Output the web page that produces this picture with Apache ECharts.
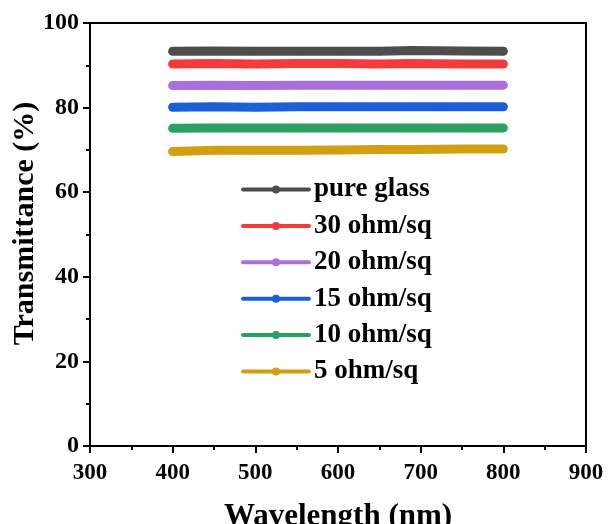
<!DOCTYPE html>
<html>
<head>
<meta charset="utf-8">
<script src="https://cdn.jsdelivr.net/npm/echarts@6/dist/echarts.min.js"></script>
<style>
  html, body { margin: 0; padding: 0; background: #fff; }
  #chart { width: 608px; height: 524px; }
</style>
</head>
<body>
<div id="chart"></div>
<script>
// wavelength (nm) sample points
const wavelength = [400, 450, 500, 550, 600, 650, 690, 750, 800]
// transmittance (%)
const pureGlass = [93.3, 93.4, 93.3, 93.3, 93.3, 93.3, 93.5, 93.4, 93.3]
const ohm30 = [90.3, 90.4, 90.3, 90.4, 90.4, 90.3, 90.4, 90.3, 90.3]
const ohm20 = [85.2, 85.3, 85.2, 85.3, 85.3, 85.3, 85.3, 85.3, 85.3]
const ohm15 = [80.1, 80.2, 80.1, 80.2, 80.2, 80.2, 80.2, 80.2, 80.2]
const ohm10 = [75.1, 75.2, 75.2, 75.2, 75.2, 75.2, 75.2, 75.2, 75.2]
const ohm5 = [69.6, 69.9, 69.9, 69.9, 70.0, 70.1, 70.1, 70.2, 70.2]

const names = ['pure glass', '30 ohm/sq', '20 ohm/sq', '15 ohm/sq', '10 ohm/sq', '5 ohm/sq']
const colors = ['#4d4d4d', '#f23c3c', '#a970dc', '#1c60d8', '#2aa063', '#d29f12']
const values = [pureGlass, ohm30, ohm20, ohm15, ohm10, ohm5]

const font = 'Liberation Serif'

const chart = echarts.init(document.getElementById('chart'))

const series = values.map((v, i) => {
  return {
    name: names[i],
    type: 'line',
    data: v.map((y, j) => [wavelength[j], y]),
    symbol: 'circle',
    symbolSize: 8,
    itemStyle: { color: colors[i] },
    lineStyle: { color: colors[i], width: 9, cap: 'round' },
    animation: false
  }
})

const axisCommon = {
  nameLocation: 'middle',
  nameMoveOverlap: false,
  axisLine: { show: true, lineStyle: { color: '#000', width: 2 } },
  axisTick: { show: true, inside: false, length: 7, lineStyle: { color: '#000', width: 2 } },
  minorTick: { show: true, splitNumber: 2, length: 4, lineStyle: { color: '#000', width: 2 } },
  splitLine: { show: false }
}

chart.setOption({
  animation: false,
  grid: {
    left: 90,
    right: 22,
    top: 23,
    bottom: 78,
    outerBoundsMode: 'none',
    containLabel: false,
    show: true,
    borderColor: '#000',
    borderWidth: 2
  },
  legend: {
    data: names,
    orient: 'vertical',
    left: 236,
    top: 171,
    itemWidth: 66,
    itemHeight: 10,
    itemGap: 9.4,
    lineStyle: { width: 4 },
    textStyle: {
      fontFamily: font,
      fontWeight: 'bold',
      fontSize: 27,
      color: '#000'
    }
  },
  xAxis: Object.assign({}, axisCommon, {
    type: 'value',
    min: 300,
    max: 900,
    interval: 100,
    name: 'Wavelength (nm)',
    nameGap: 55,
    nameTextStyle: { fontFamily: font, fontWeight: 'bold', fontSize: 31, color: '#000' },
    axisLabel: { fontFamily: font, fontWeight: 'bold', fontSize: 23, color: '#000', margin: 16 }
  }),
  yAxis: Object.assign({}, axisCommon, {
    type: 'value',
    min: 0,
    max: 100,
    interval: 20,
    name: 'Transmittance (%)',
    nameGap: 50,
    nameTextStyle: {
      fontFamily: font, fontWeight: 'bold', fontSize: 30, color: '#000',
      padding: [0, 0, 0, 22]
    },
    axisLabel: { fontFamily: font, fontWeight: 'bold', fontSize: 24, color: '#000', margin: 11 }
  }),
  series: series
})
</script>
</body>
</html>
